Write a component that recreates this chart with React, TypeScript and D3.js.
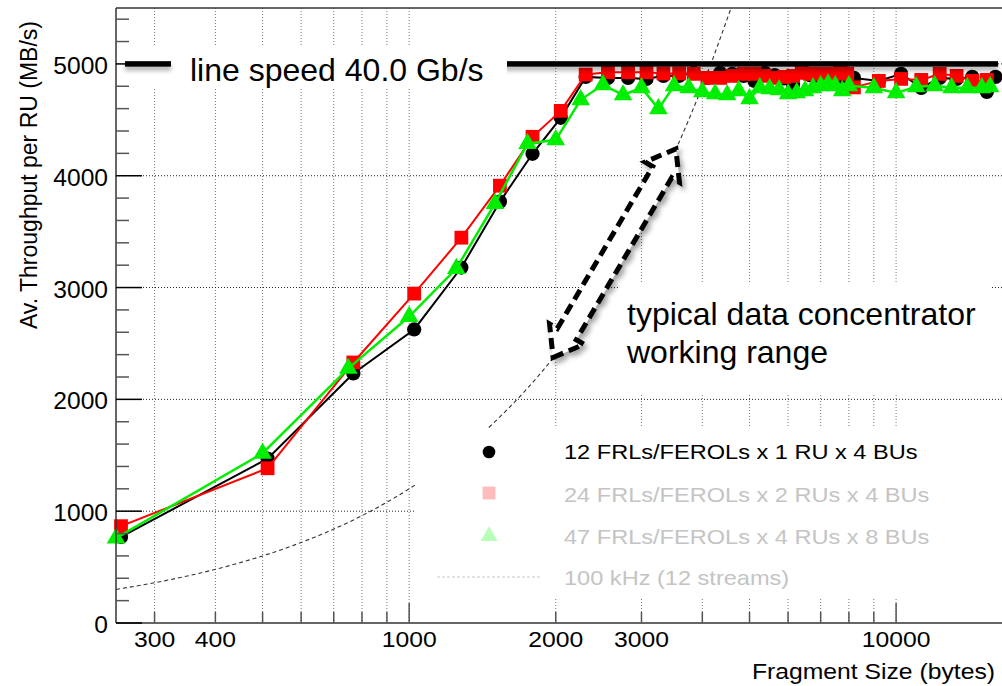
import React from 'react';
import * as d3 from 'd3';

// fragment size (bytes) and average throughput per RU (MB/s)
const blackSizes = [256, 512, 768, 1024, 1280, 1536, 1792, 2048,
  2304, 2560, 2816, 3072, 3328, 3584, 3840, 4096, 4352, 4608, 4864, 5120, 5376, 5632, 5888, 6144,
  6400, 6656, 6912, 7168, 7424, 7680, 7936, 8192,
  9216, 10240, 11264, 12288, 13312, 14336, 15360, 16000];
const blackValues = [770, 1470, 2232, 2625, 3179, 3768, 4196, 4518,
  4884, 4875, 4875, 4866, 4893, 4893, 4920, 4875, 4920, 4911, 4893, 4848, 4920, 4900, 4870, 4821,
  4938, 4900, 4893, 4893, 4848, 4875, 4884, 4875,
  4848, 4911, 4786, 4875, 4866, 4884, 4750, 4884];

const redSizes = [256, 512, 768, 1024, 1280, 1536, 1792, 2048,
  2304, 2560, 2816, 3072, 3328, 3584, 3840, 4096, 4352, 4608, 4864, 5120, 5376, 5632, 5888, 6144,
  6400, 6656, 6912, 7168, 7424, 7680, 7936, 8192,
  9216, 10240, 11264, 12288, 13312, 14336, 15360];
const redValues = [866, 1384, 2330, 2946, 3446, 3911, 4348, 4580,
  4905, 4925, 4925, 4925, 4915, 4915, 4911, 4875, 4875, 4893, 4911, 4911, 4893, 4875, 4884, 4893,
  4920, 4911, 4911, 4911, 4911, 4920, 4911, 4790,
  4848, 4866, 4857, 4911, 4893, 4848, 4857];

const greenSizes = [250, 500, 750, 1000, 1250, 1500, 1750, 2000,
  2250, 2500, 2750, 3000, 3250, 3500, 3750, 4000, 4250, 4500, 4750, 5000, 5250, 5500, 5750, 6000,
  6250, 6500, 6750, 7000, 7250, 7500, 7750, 8000,
  9000, 10000, 11000, 12000, 13000, 14000, 15000, 15600];
const greenValues = [759, 1518, 2277, 2741, 3170, 3750, 4286, 4321,
  4679, 4813, 4723, 4786, 4598, 4804, 4786, 4750, 4732, 4723, 4759, 4688, 4786, 4777, 4768, 4732,
  4741, 4759, 4786, 4804, 4821, 4804, 4759, 4804,
  4786, 4741, 4795, 4804, 4786, 4786, 4786, 4795];

// 100 kHz with 12 streams
const kHzSizes = [250, 300, 400, 500, 600, 700, 800, 1000, 1200, 1500, 2000, 2500, 3000, 3500, 4000, 4600];
const kHzValues = [300, 360, 480, 600, 720, 840, 960, 1200, 1440, 1800, 2400, 3000, 3600, 4200, 4800, 5520];

const LINE_SPEED = 5000;
const legendLabels = [
  '12 FRLs/FEROLs x 1 RU x 4 BUs',
  '24 FRLs/FEROLs x 2 RUs x 4 BUs',
  '47 FRLs/FEROLs x 4 RUs x 8 BUs',
  '100 kHz (12 streams)',
];

const xTicks = [300, 400, 500, 600, 700, 800, 900, 1000, 2000, 3000, 4000, 5000, 6000, 7000, 8000, 9000, 10000];
const xTickLabels = [300, 400, 1000, 2000, 3000, 10000];
const yMajor = [0, 1000, 2000, 3000, 4000, 5000];
const yMinor = [200, 400, 600, 800, 1200, 1400, 1600, 1800, 2200, 2400, 2600, 2800, 3200, 3400, 3600, 3800,
  4200, 4400, 4600, 4800, 5200, 5400];

// annotation arrow ends in data coordinates
const arrowFrom: [number, number] = [1975, 2375];
const arrowTo: [number, number] = [3530, 4240];

const FONT = '"Liberation Sans", Arial, Helvetica, sans-serif';

const SText = ({ x, y, anchor = 'start', size = 21, sx = 1.15, fill = '#000', children }: any) => (
  <text transform={`translate(${x},${y}) scale(${sx},1)`} textAnchor={anchor}
    fontSize={size} fill={fill} fontFamily={FONT}>{children}</text>
);

const App: React.FC = () => {
  const W = 1002, H = 686;
  const L = 116, R = 1002, T = 8, B = 623;

  const x = d3.scaleLog().domain([250, 16500]).range([L, R]);
  const y = d3.scaleLinear().domain([0, 5500]).range([B, T]);

  const pts = (s: number[], v: number[]) => s.map((d, i) => [d, v[i]] as [number, number]);
  const line = d3.line<[number, number]>().x(d => x(d[0])).y(d => y(d[1]));
  const curve = d3.line<[number, number]>().x(d => x(d[0])).y(d => y(d[1])).curve(d3.curveMonotoneX);

  const series = [
    { data: pts(blackSizes, blackValues), color: '#000000', sym: d3.symbolCircle, size: 160, w: 2 },
    { data: pts(redSizes, redValues), color: '#ff0000', sym: d3.symbolSquare, size: 190, w: 2 },
    { data: pts(greenSizes, greenValues), color: '#00ee00', sym: d3.symbolTriangle, size: 150, w: 2.5 },
  ];

  // double headed arrow outline
  const p1 = [x(arrowFrom[0]), y(arrowFrom[1])];
  const p2 = [x(arrowTo[0]), y(arrowTo[1])];
  const len = Math.hypot(p2[0] - p1[0], p2[1] - p1[1]);
  const u = [(p2[0] - p1[0]) / len, (p2[1] - p1[1]) / len];
  const n = [-u[1], u[0]];
  const hl = 27, hw = 20, sw = 11;
  const at = (t: number, o: number) => [p1[0] + u[0] * t + n[0] * o, p1[1] + u[1] * t + n[1] * o];
  const arrowPts = [
    at(0, 0), at(hl, hw), at(hl, sw), at(len - hl, sw), at(len - hl, hw), at(len, 0),
    at(len - hl, -hw), at(len - hl, -sw), at(hl, -sw), at(hl, -hw),
  ].map(p => p.join(',')).join(' ');

  const lx = 489;
  const legendY = [452, 493, 536, 577];
  const legendBase = [459, 502, 544, 585];
  const ly = y(LINE_SPEED);

  return (
    <svg width={W} height={H} style={{ position: 'absolute', left: 0, top: 0, background: '#fff' }}>
      <defs>
        <clipPath id="plot"><rect x={L} y={T} width={R - L} height={B - T} /></clipPath>
        <filter id="shadow" filterUnits="userSpaceOnUse" x={0} y={0} width={W} height={H}>
          <feDropShadow dx="3" dy="4" stdDeviation="2.5" floodColor="#000" floodOpacity="0.35" />
        </filter>
        <filter id="lineShadow" filterUnits="userSpaceOnUse" x={0} y={0} width={W} height={H}>
          <feDropShadow dx="0" dy="4" stdDeviation="2" floodColor="#000" floodOpacity="0.3" />
        </filter>
      </defs>

      {/* grid */}
      {xTicks.map(t => (
        <line key={'gx' + t} x1={x(t)} x2={x(t)} y1={T} y2={B} stroke="#777" strokeWidth={1} strokeDasharray="1 2" />
      ))}
      {yMajor.filter(t => t > 0).map(t => (
        <line key={'gy' + t} x1={L} x2={R} y1={y(t)} y2={y(t)} stroke="#222" strokeWidth={1} strokeDasharray="1 2" />
      ))}

      {/* 100 kHz curve */}
      <path d={curve(pts(kHzSizes, kHzValues)) || ''} fill="none" stroke="#333" strokeWidth={1.1}
        strokeDasharray="4 3" clipPath="url(#plot)" />

      {/* measurements */}
      {series.map((s, i) => (
        <g key={'s' + i}>
          <path d={line(s.data) || ''} fill="none" stroke={s.color} strokeWidth={s.w} />
          {s.data.map((d, j) => (
            <path key={j} d={d3.symbol().type(s.sym).size(s.size)() || ''}
              transform={`translate(${x(d[0])},${y(d[1])})`} fill={s.color} />
          ))}
        </g>
      ))}

      {/* legend */}
      <rect x={415} y={428} width={R - 415} height={170} fill="#fff" />
      <path d={d3.symbol().type(d3.symbolCircle).size(125)() || ''} transform={`translate(${lx},${legendY[0]})`} fill="#000" />
      <path d={d3.symbol().type(d3.symbolSquare).size(165)() || ''} transform={`translate(${lx},${legendY[1]})`} fill="#ffbcbc" />
      <path d={d3.symbol().type(d3.symbolTriangle).size(125)() || ''} transform={`translate(${lx},${legendY[2]})`} fill="#b8ffb8" />
      <line x1={437} x2={540} y1={legendY[3]} y2={legendY[3]} stroke="#c8c8c8" strokeWidth={1} strokeDasharray="3 2" />
      {legendLabels.map((lab, i) => (
        <SText key={lab} x={564} y={legendBase[i]} size={20.5} fill={i === 0 ? '#000' : '#c4c4c4'}>{lab}</SText>
      ))}

      {/* annotation */}
      <rect x={620} y={282} width={370} height={111} fill="#fff" />
      <text x={627} y={325} fontSize={32} fontFamily={FONT} fill="#000">typical data concentrator</text>
      <text x={627} y={363} fontSize={32} fontFamily={FONT} fill="#000">working range</text>
      <polygon points={arrowPts} fill="#fff" stroke="#000" strokeWidth={5} strokeDasharray="11 6"
        strokeLinejoin="miter" filter="url(#shadow)" />

      {/* line speed */}
      <rect x={L + 9} width={R - 4 - (L + 9)} y={ly - 2.75} height={5.5} fill="#000" filter="url(#lineShadow)" />
      <rect x={118} y={45} width={389} height={43} fill="#fff" />
      <rect x={125} width={46} y={ly - 2.75} height={5.5} fill="#000" filter="url(#lineShadow)" />
      <text x={190} y={81} fontSize={32} fontFamily={FONT} fill="#000">line speed 40.0 Gb/s</text>

      {/* frame and axes */}
      <line x1={L} x2={R} y1={T} y2={T} stroke="#333" strokeWidth={1.5} />
      <line x1={L} x2={L} y1={T} y2={B} stroke="#333" strokeWidth={1.5} />
      <line x1={L} x2={R} y1={B} y2={B} stroke="#333" strokeWidth={1.5} />
      {yMajor.map(t => (
        <line key={'ym' + t} x1={L} x2={L + 26} y1={y(t)} y2={y(t)} stroke="#000" strokeWidth={1.5} />
      ))}
      {yMinor.map(t => (
        <line key={'yn' + t} x1={L} x2={L + 13} y1={y(t)} y2={y(t)} stroke="#555" strokeWidth={1.5} />
      ))}
      {xTicks.map(t => (
        <line key={'xt' + t} x1={x(t)} x2={x(t)} y1={B} y2={B - (t === 1000 || t === 10000 ? 20 : 11)}
          stroke="#555" strokeWidth={1.5} />
      ))}
      {yMajor.map(t => (
        <SText key={'yl' + t} x={108} y={y(t) + 10} anchor="end" size={23} sx={1.07}>{t}</SText>
      ))}
      {xTickLabels.map(t => (
        <SText key={'xl' + t} x={x(t)} y={647} anchor="middle" size={21.5}>{t}</SText>
      ))}
      <SText x={995} y={679} anchor="end" size={21.5}>Fragment Size (bytes)</SText>
      <text transform="translate(37,21) rotate(-90)" textAnchor="end" fontSize={23} fontFamily={FONT} fill="#000">
        Av. Throughput per RU (MB/s)
      </text>
    </svg>
  );
};

export default App;
